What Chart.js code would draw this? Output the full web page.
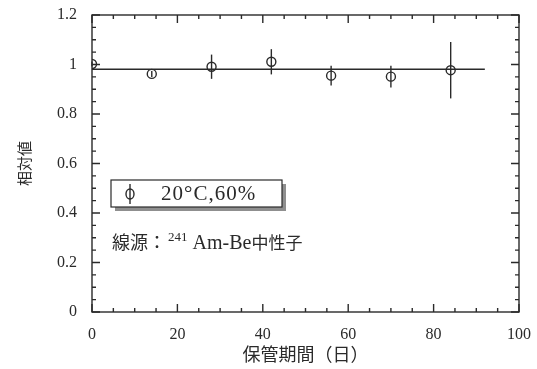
<!DOCTYPE html>
<html>
<head>
<meta charset="utf-8">
<script src="https://cdn.jsdelivr.net/npm/chart.js@4/dist/chart.umd.min.js"></script>
<style>
  html, body { margin: 0; padding: 0; background: #fff; }
  #wrap { width: 537px; height: 369px; }
</style>
</head>
<body>
<div id="wrap"><canvas id="c" width="537" height="369"></canvas></div>
<script>
// Storage period (days) and relative response with its uncertainty
const days = [0, 14, 28, 42, 56, 70, 84];
const relValues = [1.002, 0.962, 0.991, 1.011, 0.955, 0.951, 0.977];
const relErrors = [0.010, 0.012, 0.049, 0.051, 0.040, 0.044, 0.114];

// Mean level line
const fitDays = [0, 92];
const fitValues = [0.981, 0.981];

// Axis labels
const xTickLabels = ['0', '20', '40', '60', '80', '100'];
const yTickLabels = ['0', '0.2', '0.4', '0.6', '0.8', '1', '1.2'];

const seriesLabel = '20\u00B0C,60%';
const sourceLabel = ['\u7DDA\u6E90\uFF1A', '241', ' Am-Be', '\u4E2D\u6027\u5B50'];
const xTitle = '\u4FDD\u7BA1\u671F\u9593\uFF08\u65E5\uFF09';
const yTitle = '\u76F8\u5BFE\u5024';

const INK = '#2a2a2a';
const SERIF = '"Liberation Serif", "DejaVu Serif", serif';
const CJK = '"Noto Sans CJK JP", "Noto Sans CJK SC", sans-serif';

// Vertical error bars through each point
const errorBars = {
  id: 'errorBars',
  afterDatasetsDraw(chart) {
    const { ctx } = chart;
    const xs = chart.scales.x, ys = chart.scales.y;
    ctx.save();
    ctx.strokeStyle = INK;
    ctx.lineWidth = 1.4;
    days.forEach((d, i) => {
      const px = xs.getPixelForValue(d);
      ctx.beginPath();
      ctx.moveTo(px, ys.getPixelForValue(relValues[i] + relErrors[i]));
      ctx.lineTo(px, ys.getPixelForValue(relValues[i] - relErrors[i]));
      ctx.stroke();
    });
    ctx.restore();
  }
};

// Box frame with inward ticks on all four sides
const frameTicks = {
  id: 'frameTicks',
  afterDraw(chart) {
    const { ctx, chartArea: a } = chart;
    const xs = chart.scales.x, ys = chart.scales.y;
    ctx.save();
    ctx.strokeStyle = INK;
    ctx.lineWidth = 1.4;
    ctx.strokeRect(a.left, a.top, a.right - a.left, a.bottom - a.top);
    ctx.beginPath();
    for (let v = 0; v <= 100; v += 5) {
      const px = xs.getPixelForValue(v);
      const len = v % 20 === 0 ? 8 : 4;
      ctx.moveTo(px, a.bottom); ctx.lineTo(px, a.bottom - len);
      ctx.moveTo(px, a.top); ctx.lineTo(px, a.top + len);
    }
    for (let k = 0; k <= 24; k++) {
      const py = ys.getPixelForValue(k * 0.05);
      const len = k % 4 === 0 ? 8 : 4;
      ctx.moveTo(a.left, py); ctx.lineTo(a.left + len, py);
      ctx.moveTo(a.right, py); ctx.lineTo(a.right - len, py);
    }
    ctx.stroke();
    ctx.restore();
  }
};

// Legend panel with drop shadow and source note
const legendPanel = {
  id: 'legendPanel',
  afterDraw(chart) {
    const { ctx } = chart;
    const bx = 111, by = 180, bw = 171, bh = 27, sh = 4;
    ctx.save();
    ctx.fillStyle = '#8f8f8f';
    ctx.fillRect(bx + sh, by + sh, bw, bh);
    ctx.fillStyle = '#fff';
    ctx.fillRect(bx, by, bw, bh);
    ctx.strokeStyle = INK;
    ctx.lineWidth = 1.2;
    ctx.strokeRect(bx, by, bw, bh);

    // symbol: open circle with vertical bar
    const cx = 130, cy = 194;
    ctx.lineWidth = 1.4;
    ctx.beginPath();
    ctx.moveTo(cx, by + 4); ctx.lineTo(cx, by + bh - 3);
    ctx.stroke();
    ctx.beginPath();
    ctx.ellipse(cx, cy, 4, 5, 0, 0, Math.PI * 2);
    ctx.stroke();

    ctx.fillStyle = INK;
    ctx.textBaseline = 'middle';
    ctx.textAlign = 'left';
    ctx.font = '21px ' + SERIF;
    ctx.letterSpacing = '1px';
    ctx.fillText(seriesLabel, 161, 194);
    ctx.letterSpacing = '0px';

    // source note with superscript mass number
    let x = 112;
    const base = 249;
    ctx.textBaseline = 'alphabetic';
    ctx.font = '18px ' + CJK;
    ctx.fillText(sourceLabel[0], x, base);
    x += ctx.measureText(sourceLabel[0]).width + 2;
    ctx.font = '13px ' + SERIF;
    ctx.fillText(sourceLabel[1], x, base - 8);
    x += ctx.measureText(sourceLabel[1]).width;
    ctx.font = '20px ' + SERIF;
    ctx.fillText(sourceLabel[2], x, base);
    x += ctx.measureText(sourceLabel[2]).width;
    ctx.font = '17px ' + CJK;
    ctx.fillText(sourceLabel[3], x, base);
    ctx.restore();
  }
};

new Chart(document.getElementById('c'), {
  type: 'scatter',
  data: {
    datasets: [
      {
        label: seriesLabel,
        data: days.map((d, i) => ({ x: d, y: relValues[i] })),
        showLine: false,
        pointStyle: 'circle',
        pointRadius: 4.5,
        pointBorderWidth: 1.4,
        pointBorderColor: INK,
        pointBackgroundColor: 'rgba(0,0,0,0)'
      },
      {
        label: 'mean',
        data: fitDays.map((d, i) => ({ x: d, y: fitValues[i] })),
        showLine: true,
        borderColor: INK,
        borderWidth: 1.5,
        pointRadius: 0
      }
    ]
  },
  options: {
    responsive: false,
    animation: false,
    devicePixelRatio: 1,
    layout: { padding: { top: 15, right: 18, left: 0, bottom: 0 } },
    plugins: { legend: { display: false }, tooltip: { enabled: false } },
    scales: {
      x: {
        type: 'linear',
        min: 0, max: 100,
        grid: { display: false, drawTicks: false },
        border: { display: false },
        ticks: {
          stepSize: 20,
          padding: 13,
          color: INK,
          font: { family: SERIF, size: 16 },
          callback: (v) => xTickLabels[Math.round(v / 20)]
        },
        title: {
          display: true,
          text: xTitle,
          color: INK,
          font: { family: CJK, size: 18 },
          padding: { top: 0, bottom: 4 }
        },
        afterFit: (s) => { s.height = 57; s.paddingLeft = 0; s.paddingRight = 0; }
      },
      y: {
        type: 'linear',
        min: 0, max: 1.2,
        grid: { display: false, drawTicks: false },
        border: { display: false },
        ticks: {
          stepSize: 0.2,
          padding: 15,
          color: INK,
          font: { family: SERIF, size: 16 },
          callback: (v) => yTickLabels[Math.round(v / 0.2)]
        },
        title: {
          display: true,
          text: yTitle,
          color: INK,
          font: { family: CJK, size: 15 },
          padding: { top: 15, bottom: 0 }
        },
        afterFit: (s) => { s.width = 92; s.paddingTop = 0; s.paddingBottom = 0; }
      }
    }
  },
  plugins: [errorBars, frameTicks, legendPanel]
});
</script>
</body>
</html>
